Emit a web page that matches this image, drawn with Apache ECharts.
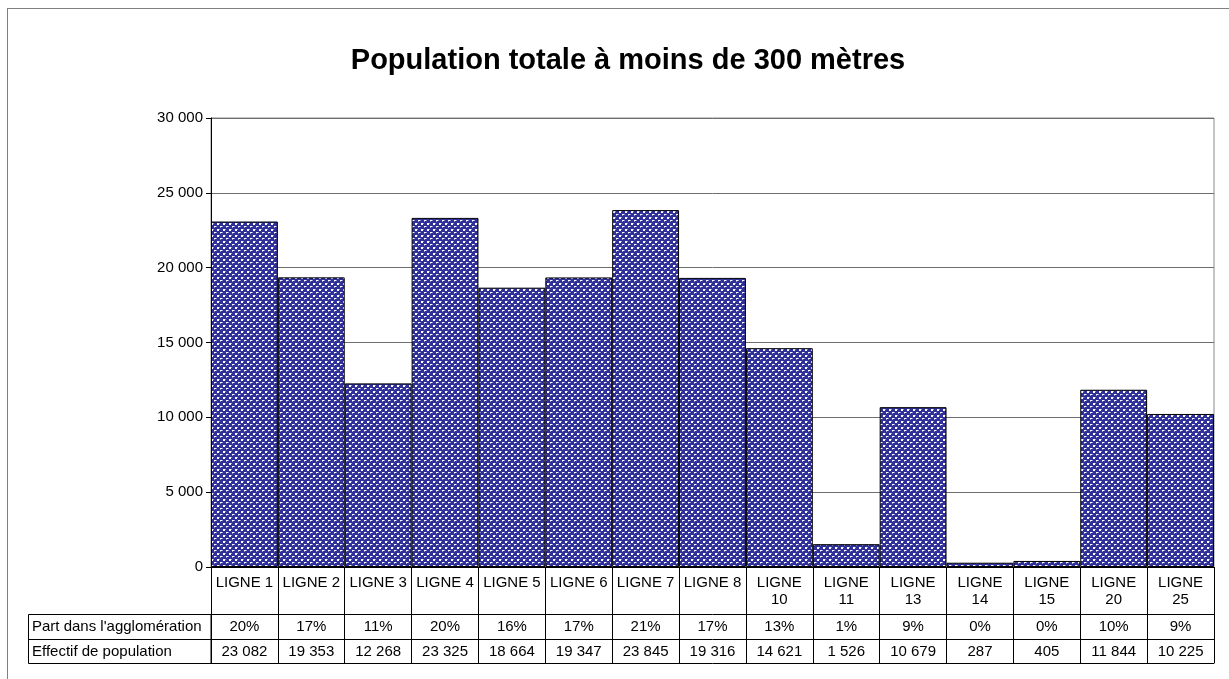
<!DOCTYPE html>
<html>
<head>
<meta charset="utf-8">
<script src="https://cdn.jsdelivr.net/npm/echarts@6/dist/echarts.min.js"></script>
<style>
  html, body { margin: 0; padding: 0; background: #fff; }
  #chart { width: 1229px; height: 679px; }
</style>
</head>
<body>
<div id="chart"></div>
<script>
const categories = ['LIGNE 1', 'LIGNE 2', 'LIGNE 3', 'LIGNE 4', 'LIGNE 5', 'LIGNE 6', 'LIGNE 7', 'LIGNE 8',
  'LIGNE 10', 'LIGNE 11', 'LIGNE 13', 'LIGNE 14', 'LIGNE 15', 'LIGNE 20', 'LIGNE 25']
const population = [23082, 19353, 12268, 23325, 18664, 19347, 23845, 19316, 14621, 1526, 10679, 287, 405, 11844, 10225]
const shares = [20, 17, 11, 20, 16, 17, 21, 17, 13, 1, 9, 0, 0, 10, 9]
const rowLabels = ["Part dans l'agglomération", 'Effectif de population']
const titleText = 'Population totale à moins de 300 mètres'

const fontFamily = '"Liberation Sans", Arial, sans-serif'

// pattern fill like the excel one
const makePattern = () => {
  const c = document.createElement('canvas')
  c.width = 6
  c.height = 6
  const ctx = c.getContext('2d')
  ctx.fillStyle = '#30309a'
  ctx.fillRect(0, 0, 6, 6)
  ctx.fillStyle = '#ffffff'
  ctx.fillRect(1, 1, 2, 2)
  ctx.fillRect(4, 4, 2, 1)
  ctx.fillStyle = '#9494cc'
  ctx.fillRect(3, 1, 1, 1)
  ctx.fillRect(4, 5, 1, 1)
  ctx.fillRect(0, 4, 1, 1)
  return c
}

const fmt = (v) => String(v).replace(/\B(?=(\d{3})+(?!\d))/g, ' ')

const chart = echarts.init(document.getElementById('chart'))

const tableAxis = (offset, data, show) => ({
  type: 'category',
  data: data,
  position: 'bottom',
  offset: offset,
  axisLine: { show: true, lineStyle: { color: '#000', width: 1 } },
  axisTick: { show: false },
  axisLabel: {
    show: show,
    interval: 0,
    margin: 5,
    verticalAlign: 'top',
    color: '#000',
    fontSize: 15,
    fontFamily: fontFamily
  }
})

const option = {
  animation: false,
  title: {
    text: titleText,
    left: 623,
    textAlign: 'center',
    top: 41,
    textStyle: { fontSize: 29, fontWeight: 'bold', color: '#000', fontFamily: fontFamily }
  },
  grid: {
    left: 211,
    right: 15,
    top: 118,
    bottom: 112,
    show: true,
    borderColor: '#8a8a8a',
    borderWidth: 1
  },
  xAxis: [
    {
      type: 'category',
      data: categories,
      axisLine: { show: true, lineStyle: { color: '#000', width: 1 } },
      axisTick: { show: true, interval: 0, length: 96, lineStyle: { color: '#000' } },
      axisLabel: {
        interval: 0,
        margin: 7,
        verticalAlign: 'top',
        lineHeight: 17,
        color: '#000',
        fontSize: 15,
        fontFamily: fontFamily,
        formatter: (v) => v.length > 7 ? v.replace(' ', '\n') : v
      }
    },
    tableAxis(47, shares.map(s => s + '%'), true),
    tableAxis(72, population.map(fmt), true),
    tableAxis(96, categories, false)
  ],
  yAxis: {
    type: 'value',
    min: 0,
    max: 30000,
    interval: 5000,
    axisLine: { show: true, lineStyle: { color: '#000', width: 1 } },
    axisTick: { show: true, length: 5, lineStyle: { color: '#000' } },
    axisLabel: {
      margin: 8,
      color: '#000',
      fontSize: 15,
      fontFamily: fontFamily,
      formatter: (v) => fmt(v)
    },
    splitLine: { show: true, lineStyle: { color: '#6e6e6e', width: 1 } }
  },
  series: [{
    type: 'bar',
    data: population,
    barCategoryGap: '0%',
    itemStyle: {
      color: { image: makePattern(), repeat: 'repeat' },
      borderColor: '#000',
      borderWidth: 1
    }
  }],
  graphic: [
    {
      type: 'rect',
      shape: { x: 7.5, y: 8.5, width: 1240, height: 700 },
      style: { fill: 'none', stroke: '#000', lineWidth: 1, lineDash: [1, 1] },
      silent: true
    },
    {
      type: 'rect',
      shape: { x: 28.5, y: 614.5, width: 182.5, height: 49 },
      style: { fill: 'none', stroke: '#000', lineWidth: 1 },
      silent: true
    },
    {
      type: 'line',
      shape: { x1: 28.5, y1: 639.5, x2: 211, y2: 639.5 },
      style: { stroke: '#000', lineWidth: 1 },
      silent: true
    },
    {
      type: 'text',
      style: { x: 32, y: 627, text: rowLabels[0], fill: '#000', font: '15px ' + fontFamily, verticalAlign: 'middle' }
    },
    {
      type: 'text',
      style: { x: 32, y: 652, text: rowLabels[1], fill: '#000', font: '15px ' + fontFamily, verticalAlign: 'middle' }
    }
  ]
}

chart.setOption(option)
</script>
</body>
</html>
